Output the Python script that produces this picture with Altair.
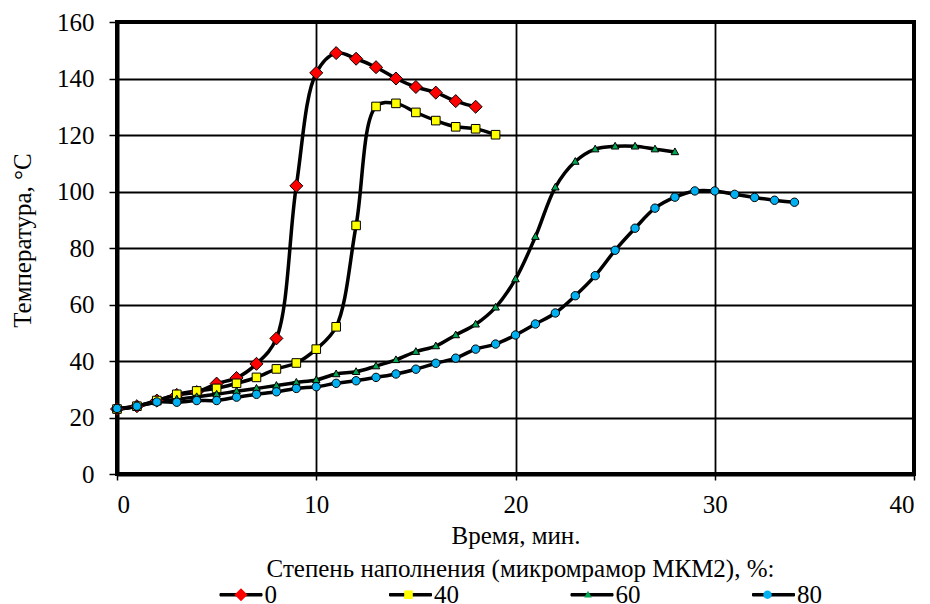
import altair as alt
import pandas as pd

series_names = ["0", "40", "60", "80"]
series_colors = ["#FF0000", "#FFFF00", "#00A651", "#00B0F0"]
series_shapes = [
    "M0,-0.31L0.31,0L0,0.31L-0.31,0Z",
    "M-0.205,-0.205L0.205,-0.205L0.205,0.205L-0.205,0.205Z",
    "M0,-0.19L0.18,0.13L-0.18,0.13Z",
    "M0.2,0A0.2,0.2,0,1,1,-0.2,0A0.2,0.2,0,1,1,0.2,0Z",
]
legend_line_path = "M-1,-0.06L1,-0.06L1,0.06L-1,0.06Z"

time_0 = list(range(0, 19))
temp_0 = [23, 24, 26, 28, 29, 32, 34, 39, 48, 102, 142, 149, 147, 144, 140, 137, 135, 132, 130]

time_40 = list(range(0, 20))
temp_40 = [23, 24, 26, 28.2, 29.4, 30.3, 32.1, 34.2, 37.2, 39.3, 44.2, 52.1, 88, 130.1, 131.2,
           128, 125.1, 122.9, 122.2, 120.1]

time_60 = list(range(0, 29))
temp_60 = [23, 24, 25.5, 26.5, 27.3, 28.2, 29.3, 30.3, 31.3, 32.4, 33.3, 35.4, 36.2, 38.2, 40.4,
           43.3, 45.3, 49.2, 53, 59, 69, 84, 101.5, 110.6, 115, 116, 116, 115, 114]

time_80 = list(range(0, 35))
temp_80 = [23.2, 24, 25.5, 25.4, 26, 26, 27.2, 28.2, 29.1, 30.3, 30.9, 32.1, 33, 34.2, 35.4,
           37.1, 39.2, 41, 44.2, 46, 49.2, 53.1, 57, 63.1, 70.2, 79.2, 87, 94.1, 98, 100.2,
           100.2, 99, 97.9, 96.9, 96.2]

x_ticks = [0, 10, 20, 30, 40]
y_ticks = [0, 20, 40, 60, 80, 100, 120, 140, 160]

x_title = "Время, мин."
y_title = "Температура, °С"
legend_title = "Степень наполнения (микромрамор МКМ2), %:"

rows = []
for name, xs, ys in [("0", time_0, temp_0), ("40", time_40, temp_40),
                     ("60", time_60, temp_60), ("80", time_80, temp_80)]:
    for xv, yv in zip(xs, ys):
        rows.append({"series": name, "series_line": name, "t": xv, "T": yv})
df = pd.DataFrame(rows)

FONT = "Liberation Serif"
FS = 25

x_enc = alt.X(
    "t:Q",
    scale=alt.Scale(domain=[0, 40], nice=False, zero=False),
    axis=alt.Axis(values=x_ticks, title=x_title, tickSize=6, labelPadding=12,
                  titleY=69, titleBaseline="alphabetic"),
)
y_enc = alt.Y(
    "T:Q",
    scale=alt.Scale(domain=[0, 160], nice=False),
    axis=alt.Axis(values=y_ticks, title=y_title, tickSize=8, labelPadding=15,
                  titleX=-87, titleY=218, titleBaseline="alphabetic", titleAngle=270),
)

common_legend = dict(
    orient="none", legendX=102.5, legendY=535, direction="horizontal", gridAlign="each",
    titleAnchor="middle", titleFont=FONT, titleFontSize=FS, titleFontWeight="normal",
    titleColor="black", titleLimit=2000, labelFont=FONT, labelFontSize=FS, labelColor="black",
    labelOffset=2, columnPadding=109.5, padding=0, titlePadding=-9, symbolOffset=0,
    symbolSize=1764, symbolStrokeWidth=1, symbolOpacity=1,
)

lines = alt.Chart(df).mark_line(strokeWidth=3.5, interpolate="catmull-rom").encode(
    x=x_enc, y=y_enc,
    color=alt.Color(
        "series_line:N",
        scale=alt.Scale(range=["black"] * 4),
        legend=alt.Legend(title=legend_title, symbolType=legend_line_path,
                          symbolFillColor="black", **common_legend),
    ),
)

marker_legend = alt.Legend(title=legend_title, symbolStrokeColor="black",
                           titleOpacity=0, labelOpacity=0, **common_legend)

points = alt.Chart(df).mark_point(filled=True, size=1764, stroke="black", strokeWidth=1,
                                  opacity=1).encode(
    x=x_enc, y=y_enc,
    fill=alt.Fill("series:N", scale=alt.Scale(domain=series_names, range=series_colors),
                  legend=marker_legend),
    shape=alt.Shape("series:N", scale=alt.Scale(domain=series_names, range=series_shapes),
                    legend=marker_legend),
)

chart = alt.layer(lines, points).properties(
    width=797, height=452,
    autosize=alt.AutoSizeParams(type="none"),
    padding={"left": 109, "top": 14, "right": 8, "bottom": 130},
    background="white",
).configure_view(
    stroke="black", strokeWidth=4,
).configure_axis(
    grid=True, gridColor="black", gridWidth=1.8, gridOpacity=1,
    domainColor="black", domainWidth=4, tickColor="black", tickWidth=1.5,
    labelFont=FONT, labelFontSize=FS, labelColor="black",
    titleFont=FONT, titleFontSize=FS, titleFontWeight="normal", titleColor="black",
)

chart.save("out.html", embed_options={"renderer": "svg", "actions": False})
